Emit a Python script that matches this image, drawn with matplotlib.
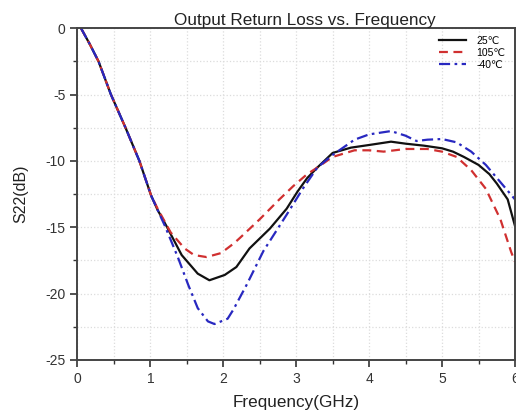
import matplotlib
matplotlib.use("Agg")
import matplotlib.pyplot as plt
from matplotlib.ticker import MultipleLocator

plt.rcParams['font.family'] = ['Liberation Sans', 'DejaVu Sans']
plt.rcParams['axes.unicode_minus'] = False

# S22 vs frequency, three temperatures
freq_25 = [0.05, 0.17, 0.29, 0.46, 0.66, 0.85, 1.01, 1.1, 1.22, 1.43, 1.65, 1.81,
           2.02, 2.18, 2.36, 2.64, 2.87, 3.02, 3.15, 3.29, 3.5, 3.75, 4.0, 4.3,
           4.5, 4.75, 5.0, 5.15, 5.3, 5.5, 5.65, 5.75, 5.9, 6.0]
s22_25 = [0, -1.2, -2.5, -5.0, -7.5, -10.0, -12.6, -13.7, -14.9, -17.1, -18.5, -19.0,
          -18.6, -18.0, -16.6, -15.1, -13.6, -12.3, -11.3, -10.5, -9.4, -9.0, -8.8, -8.55,
          -8.7, -8.85, -9.05, -9.3, -9.7, -10.3, -11.0, -11.7, -12.9, -14.9]

freq_105 = [0.05, 0.17, 0.29, 0.46, 0.66, 0.85, 1.01, 1.1, 1.28, 1.47, 1.6, 1.77,
            1.97, 2.15, 2.23, 2.5, 2.77, 2.96, 3.15, 3.29, 3.5, 3.8, 4.0, 4.2,
            4.5, 4.8, 5.0, 5.2, 5.4, 5.6, 5.8, 5.95, 6.0]
s22_105 = [0, -1.2, -2.5, -5.0, -7.5, -10.0, -12.6, -13.6, -15.4, -16.6, -17.1, -17.25,
           -16.95, -16.2, -15.8, -14.4, -12.9, -11.9, -11.0, -10.5, -9.7, -9.2, -9.2, -9.3,
           -9.1, -9.1, -9.3, -9.7, -10.7, -12.1, -14.4, -16.9, -17.6]

freq_m40 = [0.05, 0.17, 0.29, 0.46, 0.66, 0.85, 1.01, 1.1, 1.2, 1.38, 1.52, 1.65,
            1.79, 1.88, 2.06, 2.14, 2.32, 2.55, 2.87, 3.09, 3.29, 3.5, 3.8, 4.0,
            4.3, 4.5, 4.65, 4.8, 5.0, 5.2, 5.4, 5.6, 5.8, 6.0]
s22_m40 = [0, -1.2, -2.5, -5.0, -7.5, -10.0, -12.6, -13.7, -14.9, -17.3, -19.35, -21.1,
           -22.1, -22.3, -21.9, -21.2, -19.35, -16.8, -14.05, -12.1, -10.5, -9.55, -8.4, -8.0,
           -7.75, -8.1, -8.5, -8.4, -8.35, -8.6, -9.3, -10.3, -11.6, -12.9]

fig = plt.figure(figsize=(5.16, 4.16), dpi=100)
ax = fig.add_axes([0.150, 0.135, 0.848, 0.797])

ax.plot(freq_25, s22_25, color='#111111', lw=1.6, ls='-', label='25\u2103')
ax.plot(freq_105, s22_105, color='#d03030', lw=1.6, ls=(0, (4, 2.5)), label='105\u2103')
ax.plot(freq_m40, s22_m40, color='#2828c0', lw=1.6, ls=(0, (5, 2, 1.2, 2)), label='-40\u2103')

ax.set_xlim(0, 6)
ax.set_ylim(-25, 0)
ax.xaxis.set_major_locator(MultipleLocator(1))
ax.xaxis.set_minor_locator(MultipleLocator(0.5))
ax.yaxis.set_major_locator(MultipleLocator(5))
ax.yaxis.set_minor_locator(MultipleLocator(2.5))

ax.grid(which='both', color='#dcdcdc', ls=':', lw=0.9)
ax.set_axisbelow(True)
ax.tick_params(which='major', direction='out', length=5, width=1.2, labelsize=10, colors='#333333')
ax.tick_params(which='minor', direction='out', length=3, width=1.0, colors='#333333')
for sp in ax.spines.values():
    sp.set_color('#444444')
    sp.set_linewidth(1.4)

ax.set_title('Output Return Loss vs. Frequency', fontsize=12.3, color='#222222', pad=2, x=0.52)
ax.set_xlabel('Frequency(GHz)', fontsize=12.3, color='#222222', labelpad=7)
ax.set_ylabel('S22(dB)', fontsize=11.5, color='#222222', labelpad=12)

leg = ax.legend(loc='upper right', frameon=False, fontsize=7.5, handlelength=2.6,
                handletextpad=1.0, labelspacing=0.2, borderpad=0.2,
                bbox_to_anchor=(0.995, 1.0))

fig.savefig('out.png', dpi=100)
